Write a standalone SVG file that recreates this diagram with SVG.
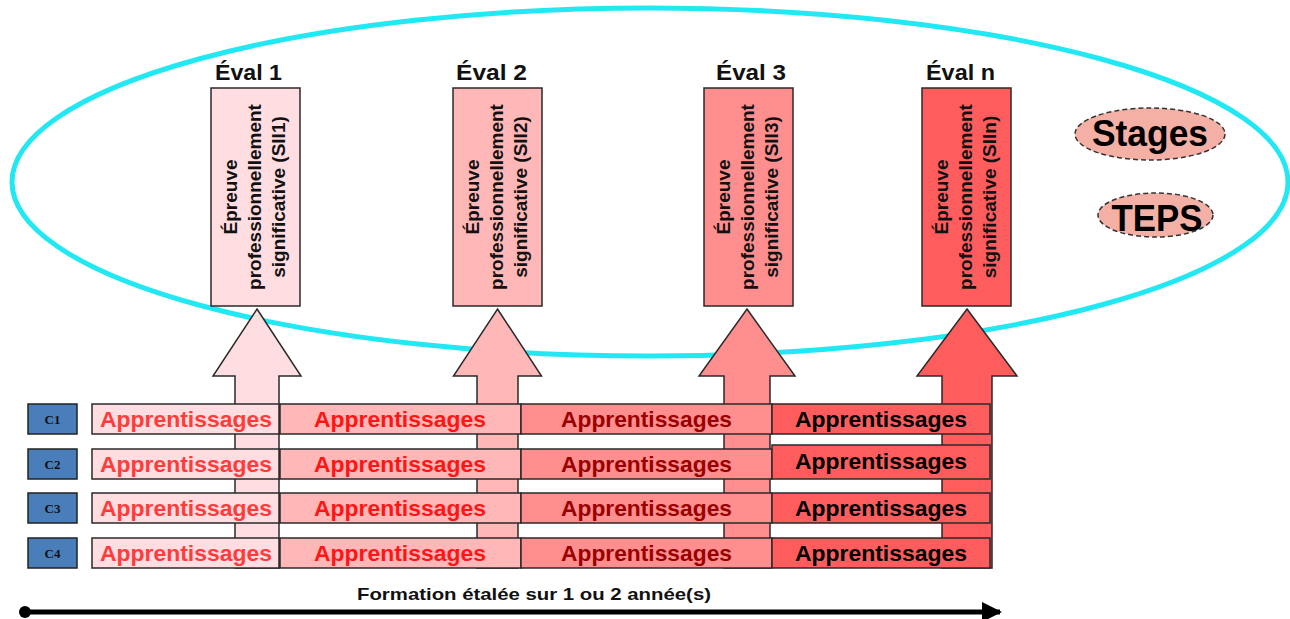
<svg xmlns="http://www.w3.org/2000/svg" width="1290" height="619" viewBox="0 0 1290 619">
<style>
.b{font-family:"Liberation Sans",Arial,sans-serif;font-weight:bold}
.box{stroke:#2a2a2a;stroke-width:1.5}
.c1{fill:#FFDDE0}.c2{fill:#FFB7B7}.c3{fill:#FF8E8E}.c4{fill:#FF5D5D}
.ap{font-family:"Liberation Sans",Arial,sans-serif;font-weight:bold;font-size:22px;text-anchor:middle}
.t1{fill:#FF3B3B}.t2{fill:#FF1515}.t3{fill:#9A0000}.t4{fill:#000}
.ev{font-family:"Liberation Sans",Arial,sans-serif;font-weight:bold;font-size:22px;text-anchor:middle;fill:#111}
.vt{font-family:"Liberation Sans",Arial,sans-serif;font-weight:bold;font-size:19px;text-anchor:middle;fill:#111}
.cb{fill:#4A7EBB;stroke:#222;stroke-width:1.5}
.ct{font-family:"Liberation Serif","Times New Roman",serif;font-weight:bold;font-size:13px;text-anchor:middle;fill:#111}
.oval{fill:#F4B0A4;stroke:#333;stroke-width:1.5;stroke-dasharray:5,3}
</style>
<defs>
<marker id="ah" viewBox="0 0 10 10" refX="9" refY="5" markerWidth="4" markerHeight="4" orient="auto" markerUnits="strokeWidth">
<path d="M0,0 L10,5 L0,10 z" fill="#000"/>
</marker>
</defs>

<g id="scope">
<ellipse cx="650" cy="182" rx="638" ry="174" fill="none" stroke="#22E8F4" stroke-width="5"/>
</g>

<g id="connectors">
<polygon class="box c1" points="257,309 301,376 279,376 279,568 235,568 235,376 213,376"/>
<polygon class="box c2" points="497.5,309 541.5,376 518,376 518,568 477,568 477,376 453.5,376"/>
<polygon class="box c3" points="747,309 795,376 770,376 770,568 724,568 724,376 699,376"/>
<polygon class="box c4" points="967,309 1017,376 992,376 992,568 942,568 942,376 917,376"/>
<line x1="25" y1="612" x2="1000" y2="612" stroke="#000" stroke-width="5" marker-end="url(#ah)"/>
<circle cx="25" cy="612" r="6" fill="#000"/>
</g>

<g id="eval1">
<text class="ev" x="248.5" y="80" textLength="67" lengthAdjust="spacingAndGlyphs">Éval 1</text>
<rect class="box c1" x="211" y="88" width="89" height="218"/>
<g transform="translate(255.5,197) rotate(-90)">
<text class="vt" x="0" y="-18.5">Épreuve</text>
<text class="vt" x="0" y="5.5">professionnellement</text>
<text class="vt" x="0" y="29.5">significative (SII1)</text>
</g>
</g>
<g id="eval2">
<text class="ev" x="491.5" y="80" textLength="71" lengthAdjust="spacingAndGlyphs">Éval 2</text>
<rect class="box c2" x="453" y="88" width="89" height="218"/>
<g transform="translate(497.5,197) rotate(-90)">
<text class="vt" x="0" y="-18.5">Épreuve</text>
<text class="vt" x="0" y="5.5">professionnellement</text>
<text class="vt" x="0" y="29.5">significative (SII2)</text>
</g>
</g>
<g id="eval3">
<text class="ev" x="751" y="80" textLength="70" lengthAdjust="spacingAndGlyphs">Éval 3</text>
<rect class="box c3" x="704" y="88" width="89" height="218"/>
<g transform="translate(748.5,197) rotate(-90)">
<text class="vt" x="0" y="-18.5">Épreuve</text>
<text class="vt" x="0" y="5.5">professionnellement</text>
<text class="vt" x="0" y="29.5">significative (SII3)</text>
</g>
</g>
<g id="evaln">
<text class="ev" x="960.5" y="80" textLength="69" lengthAdjust="spacingAndGlyphs">Éval n</text>
<rect class="box c4" x="922" y="88" width="89" height="218"/>
<g transform="translate(966.5,197) rotate(-90)">
<text class="vt" x="0" y="-18.5">Épreuve</text>
<text class="vt" x="0" y="5.5">professionnellement</text>
<text class="vt" x="0" y="29.5">significative (SIIn)</text>
</g>
</g>

<g id="stages">
<ellipse class="oval" cx="1150" cy="134" rx="75" ry="26"/>
<text class="b" x="1150" y="146" font-size="36" text-anchor="middle" textLength="116" lengthAdjust="spacingAndGlyphs">Stages</text>
</g>
<g id="teps">
<ellipse class="oval" cx="1155.5" cy="215" rx="57.5" ry="22"/>
<text class="b" x="1157" y="231" font-size="37" text-anchor="middle" textLength="91" lengthAdjust="spacingAndGlyphs">TEPS</text>
</g>

<g id="row1">
<rect class="cb" x="28" y="404" width="49" height="30"/><text class="ct" x="52.5" y="423.5">C1</text>
<rect class="box c1" x="92" y="404" width="187" height="30"/><text class="ap t1" x="186" y="427" textLength="172" lengthAdjust="spacingAndGlyphs">Apprentissages</text>
<rect class="box c2" x="280" y="404" width="241" height="30"/><text class="ap t2" x="400" y="427" textLength="172" lengthAdjust="spacingAndGlyphs">Apprentissages</text>
<rect class="box c3" x="521" y="404" width="251" height="30"/><text class="ap t3" x="646.5" y="427" textLength="171" lengthAdjust="spacingAndGlyphs">Apprentissages</text>
<rect class="box c4" x="772" y="404" width="218" height="30"/><text class="ap t4" x="881" y="427" textLength="172" lengthAdjust="spacingAndGlyphs">Apprentissages</text>
</g>
<g id="row2">
<rect class="cb" x="28" y="449" width="49" height="30"/><text class="ct" x="52.5" y="468.5">C2</text>
<rect class="box c1" x="92" y="449" width="187" height="30"/><text class="ap t1" x="186" y="472" textLength="172" lengthAdjust="spacingAndGlyphs">Apprentissages</text>
<rect class="box c2" x="280" y="449" width="241" height="30"/><text class="ap t2" x="400" y="472" textLength="172" lengthAdjust="spacingAndGlyphs">Apprentissages</text>
<rect class="box c3" x="521" y="449" width="251" height="30"/><text class="ap t3" x="646.5" y="472" textLength="171" lengthAdjust="spacingAndGlyphs">Apprentissages</text>
<rect class="box c4" x="772" y="445" width="218" height="34"/><text class="ap t4" x="881" y="469" textLength="172" lengthAdjust="spacingAndGlyphs">Apprentissages</text>
</g>
<g id="row3">
<rect class="cb" x="28" y="493" width="49" height="30"/><text class="ct" x="52.5" y="512.5">C3</text>
<rect class="box c1" x="92" y="493" width="187" height="30"/><text class="ap t1" x="186" y="516" textLength="172" lengthAdjust="spacingAndGlyphs">Apprentissages</text>
<rect class="box c2" x="280" y="493" width="241" height="30"/><text class="ap t2" x="400" y="516" textLength="172" lengthAdjust="spacingAndGlyphs">Apprentissages</text>
<rect class="box c3" x="521" y="493" width="251" height="30"/><text class="ap t3" x="646.5" y="516" textLength="171" lengthAdjust="spacingAndGlyphs">Apprentissages</text>
<rect class="box c4" x="772" y="493" width="218" height="30"/><text class="ap t4" x="881" y="516" textLength="172" lengthAdjust="spacingAndGlyphs">Apprentissages</text>
</g>
<g id="row4">
<rect class="cb" x="28" y="538" width="49" height="30"/><text class="ct" x="52.5" y="557.5">C4</text>
<rect class="box c1" x="92" y="538" width="187" height="30"/><text class="ap t1" x="186" y="561" textLength="172" lengthAdjust="spacingAndGlyphs">Apprentissages</text>
<rect class="box c2" x="280" y="538" width="241" height="30"/><text class="ap t2" x="400" y="561" textLength="172" lengthAdjust="spacingAndGlyphs">Apprentissages</text>
<rect class="box c3" x="521" y="538" width="251" height="30"/><text class="ap t3" x="646.5" y="561" textLength="171" lengthAdjust="spacingAndGlyphs">Apprentissages</text>
<rect class="box c4" x="772" y="538" width="218" height="30"/><text class="ap t4" x="881" y="561" textLength="172" lengthAdjust="spacingAndGlyphs">Apprentissages</text>
</g>

<g id="timeline-label">
<text class="b" x="534" y="600" font-size="17" text-anchor="middle" fill="#111" textLength="354" lengthAdjust="spacingAndGlyphs">Formation étalée sur 1 ou 2 année(s)</text>
</g>
</svg>
